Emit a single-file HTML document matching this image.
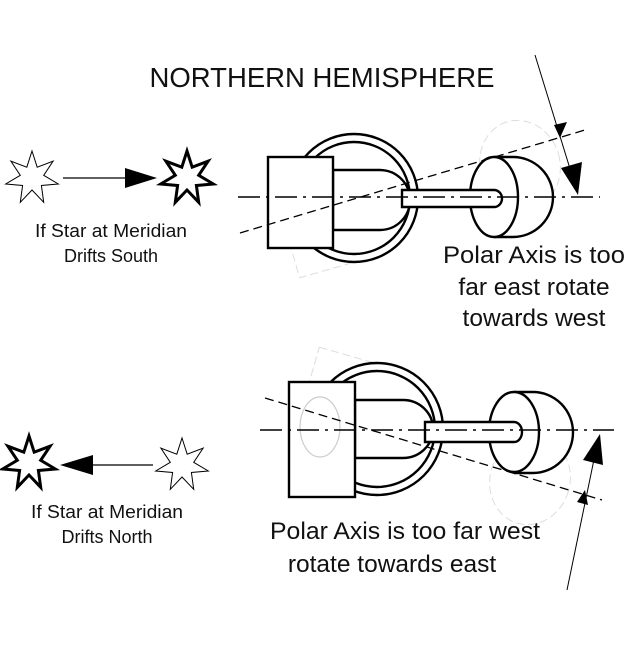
<!DOCTYPE html>
<html><head><style>
body{margin:0;background:#fff;}
svg text{font-family:"Liberation Sans",sans-serif;fill:#111;}
</style></head><body>
<svg width="640" height="640" viewBox="0 0 640 640" xmlns="http://www.w3.org/2000/svg">
<g id="stars"></g>
<text x="322" y="87" font-size="27.5" text-anchor="middle" textLength="345" lengthAdjust="spacingAndGlyphs">NORTHERN HEMISPHERE</text>
<line x1="63" y1="178" x2="128" y2="178" stroke="#000" stroke-width="1.2"/>
<polygon points="125,168 157,178 125,188" fill="#000"/>
<text x="111" y="237" font-size="18" text-anchor="middle" textLength="152" lengthAdjust="spacingAndGlyphs">If Star at Meridian</text>
<text x="111" y="262" font-size="18" text-anchor="middle">Drifts South</text>
<line x1="153" y1="465" x2="90" y2="465" stroke="#000" stroke-width="1.2"/>
<polygon points="93,455 60,465 93,475" fill="#000"/>
<text x="107" y="518" font-size="18" text-anchor="middle" textLength="152" lengthAdjust="spacingAndGlyphs">If Star at Meridian</text>
<text x="107" y="543" font-size="18" text-anchor="middle">Drifts North</text>

<!-- TOP MECHANISM -->
<g fill="none" stroke="#ddd" stroke-width="1" stroke-dasharray="8,4">
<ellipse cx="520" cy="165" rx="40" ry="45" transform="rotate(-16 520 165)"/>
<rect x="285" y="175" width="70" height="95" transform="rotate(-16 320 222)"/>
</g>
<ellipse cx="300" cy="203" rx="20" ry="30" fill="none" stroke="#ccc" stroke-width="1.2"/>
<g fill="#fff" stroke="#000" stroke-width="2.4">
<circle cx="354" cy="198" r="64"/>
<circle cx="354" cy="198" r="56"/>
<path d="M333,170 H380 A30,30 0 0 1 380,230 H333 Z"/>
<path d="M494,157 H513 A40,40 0 0 1 513,237 H494" />
<ellipse cx="494" cy="197" rx="24" ry="40"/>
<rect x="268" y="157" width="65" height="91"/>
</g>
<path d="M402,190 H494 A8,8.5 0 0 1 494,207 H402 Z" fill="#fff" stroke="#000" stroke-width="2.4"/>
<line x1="238" y1="197" x2="600" y2="197" stroke="#000" stroke-width="1.6" stroke-dasharray="22,6,3,6"/>
<line x1="240" y1="233" x2="585" y2="130" stroke="#000" stroke-width="1.3" stroke-dasharray="9,5"/>
<line x1="535" y1="55" x2="575" y2="185" stroke="#000" stroke-width="1"/>
<polygon points="554,125 567,122 560,138" fill="#000"/>
<polygon points="561,168 582,162 578,195" fill="#000"/>
<text x="534" y="263" font-size="24.5" text-anchor="middle" textLength="182" lengthAdjust="spacingAndGlyphs">Polar Axis is too</text>
<text x="534" y="295" font-size="24.5" text-anchor="middle">far east rotate</text>
<text x="534" y="326" font-size="24.5" text-anchor="middle">towards west</text>

<!-- BOTTOM MECHANISM -->
<g fill="none" stroke="#ddd" stroke-width="1" stroke-dasharray="8,4">
<ellipse cx="530" cy="480" rx="40" ry="45" transform="rotate(16 530 480)"/>
<rect x="305" y="355" width="70" height="95" transform="rotate(16 340 402)"/>
</g>
<g fill="#fff" stroke="#000" stroke-width="2.4">
<circle cx="377" cy="429" r="66"/>
<circle cx="377" cy="429" r="58"/>
<path d="M355,400 H403 A30,29 0 0 1 403,458 H355 Z"/>
<path d="M514,392 H533 A40,40.5 0 0 1 533,473 H514"/>
<ellipse cx="514" cy="432" rx="25" ry="40"/>
<rect x="289" y="382" width="66" height="115"/>
</g>
<path d="M425,422 H514 A8,10 0 0 1 514,442 H425 Z" fill="#fff" stroke="#000" stroke-width="2.4"/>
<ellipse cx="320" cy="427" rx="20" ry="30" fill="none" stroke="#ccc" stroke-width="1.2"/>
<line x1="260" y1="430" x2="614" y2="430" stroke="#000" stroke-width="1.6" stroke-dasharray="22,6,3,6"/>
<line x1="265" y1="398" x2="602" y2="500" stroke="#000" stroke-width="1.3" stroke-dasharray="9,5"/>
<line x1="567" y1="590" x2="597" y2="445" stroke="#000" stroke-width="1"/>
<polygon points="577,502 588,505 585,490" fill="#000"/>
<polygon points="583,460 603,465 600,434" fill="#000"/>
<text x="405" y="539" font-size="24.5" text-anchor="middle" textLength="270" lengthAdjust="spacingAndGlyphs">Polar Axis is too far west</text>
<text x="392" y="572" font-size="24.5" text-anchor="middle">rotate towards east</text>
</svg>
<script>
function star(cx,cy,R,r){var p=[];for(var i=0;i<14;i++){var a=-Math.PI/2+i*Math.PI/7;var rr=i%2?r:R;p.push((cx+rr*Math.cos(a)).toFixed(1)+','+(cy+rr*Math.sin(a)).toFixed(1));}return p.join(' ');}
var g=document.getElementById('stars');
var s=[[32,178,27,12,1],[187,178,27,12,3],[29,463,27,12,3],[182,465,27,12,1]];
var h='';s.forEach(function(t){h+='<polygon points="'+star(t[0],t[1],t[2],t[3])+'" fill="#fff" stroke="#000" stroke-width="'+t[4]+'" stroke-linejoin="miter"/>';});
g.innerHTML=h;
</script>
</body></html>
